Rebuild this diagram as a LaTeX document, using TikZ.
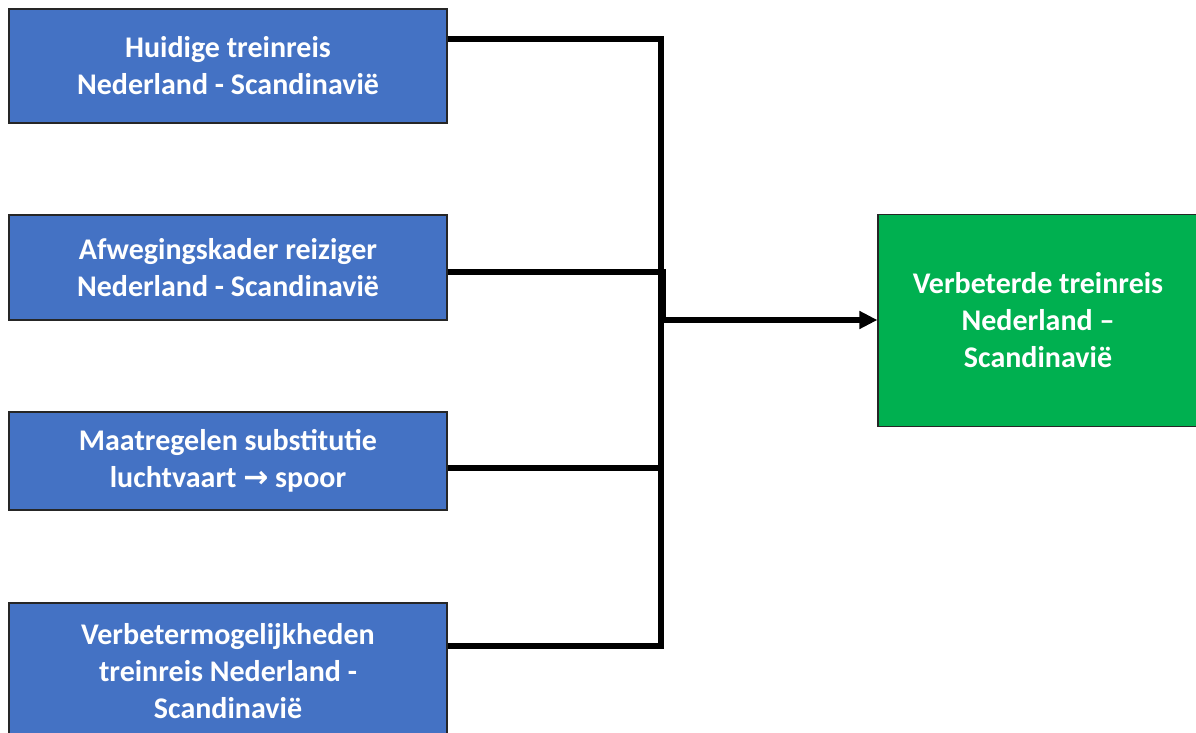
\documentclass[tikz,border=0pt]{standalone}
\usepackage{fontspec}
\setmainfont{Carlito}
\newfontfamily\pijlfont{DejaVu Sans}
\usepackage{xcolor}
\usetikzlibrary{arrows.meta}

\definecolor{vakblauw}{HTML}{4472C4}
\definecolor{vakgroen}{HTML}{00B050}

\begin{document}
\begin{tikzpicture}[x=1pt, y=-1pt,
    vak/.style={draw=black!85, line width=1.2pt, fill=vakblauw, text=white,
        font=\fontsize{30}{37}\selectfont\bfseries, align=center,
        minimum width=438pt, inner sep=0pt},
    doel/.style={vak, fill=vakgroen, minimum width=320pt, minimum height=212pt},
    lijn/.style={line width=5.5pt, black}]

\useasboundingbox (0,0) rectangle (1196,733);

% Onderzoeksvragen
\node[vak, minimum height=114pt] (huidig) at (228,66) {Huidige treinreis\\Nederland - Scandinavië};
\node[vak, minimum height=105pt] (kader) at (228,267.5) {Afwegingskader reiziger\\Nederland - Scandinavië};
\node[vak, minimum height=98pt] (maatregel) at (228,461) {Maatregelen substitutie\\luchtvaart {\pijlfont\bfseries →} spoor};
\node[vak, minimum height=136pt] (verbeter) at (228,671) {Verbetermogelijkheden\\treinreis Nederland -\\Scandinavië};

% Resultaat
\node[doel] (resultaat) at (1038,320.5) {Verbeterde treinreis\\Nederland –\\Scandinavië};

% Knooppunt
\coordinate (samen) at (661,320);
\coordinate (samen2) at (663,320);

% Verbindingen
\draw[lijn] ([yshift=27pt]huidig.east) -| (samen);
\draw[lijn] ([yshift=-4.5pt]kader.east) -| (samen2);
\draw[lijn] ([yshift=-7pt]maatregel.east) -| (samen);
\draw[lijn] ([yshift=25pt]verbeter.east) -| (samen);
\draw[lijn, -{Triangle[length=18pt, width=17pt]}] (samen) -- (samen -| resultaat.west);

\end{tikzpicture}
\end{document}
